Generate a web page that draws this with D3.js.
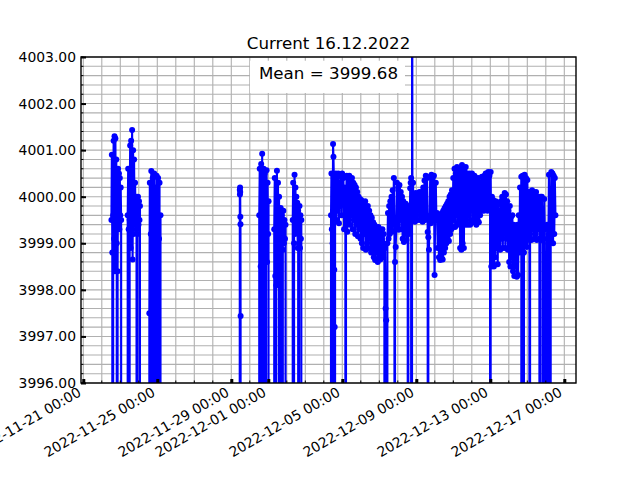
<!DOCTYPE html>
<html>
<head>
<meta charset="utf-8">
<script src="https://cdn.jsdelivr.net/npm/d3@7"></script>
<style>
  body { margin: 0; background: #fff; }
  text { font-family: "DejaVu Sans", sans-serif; }
</style>
</head>
<body>
<div id="chart"></div>
<script>
// logger readings, 0 = dropout, 4010 = spike off the top
var run1 = [3999.5, 4000.9, 3998.8, 0, 3999.6, 4001.2, 3999.1, 4001.3, 3998.4, 4001.25, 3999.3, 4000.8, 3999.0, 0, 3998.4, 4000.6, 3999.4, 4000.5, 3999.3, 4000.4, 3999.6, 4000.2, 3999.5, 0];
var run2 = [3999.6, 4000.6, 3999.3, 0, 3999.5, 4001.1, 3998.9, 4001.2, 3999.4, 4001.43, 3998.65, 4001.0, 3999.2, 4000.8, 3999.4, 4000.3, 3999.6, 4000.0, 3999.3, 0, 3999.2, 4000.0, 3999.4, 3999.9, 3999.5, 3999.8, 0];
var run3 = [3997.5, 4000.3, 0, 3999.2, 4000.55, 3998.6, 0, 4000.4, 3999.0, 0, 4000.5, 3998.9, 4000.2, 0, 3999.3, 4000.45, 0, 3998.5, 4000.4, 0, 3999.1, 4000.3, 0, 3999.6, 0];
var run4 = [4000.15, 4000.05, 4000.2, 4000.1, 3999.57, 3999.41, 3997.44, 0];
var run5 = [3999.6, 4000.6, 0, 3998.5, 4000.7, 3999.0, 4000.92, 0, 3998.43, 4000.6, 3999.3, 4000.5, 3998.8, 0, 3999.4, 4000.57, 3998.6, 4000.3, 3999.2, 3999.9, 0];
var run6 = [3999.3, 4000.4, 3998.3, 0, 3998.1, 4000.56, 3999.0, 4000.3, 3998.2, 4000.0, 0, 3998.9, 3999.76, 3999.1, 3999.6, 0, 3998.86, 3999.7, 3999.0, 3999.5, 3999.1, 3999.4, 0];
var run7 = [3999.5, 4000.3, 0, 3999.0, 4000.47, 3999.2, 4000.2, 3999.4, 4000.0, 3999.3, 3999.87, 3998.9, 3999.7, 0, 3999.0, 3999.8, 3998.9, 3999.6, 3999.1, 3999.5, 0];
var run8 = [3999.6, 4000.5, 3999.3, 0, 3999.0, 4001.13, 4000.86, 4000.4, 3998.43, 3997.2, 0];
var run9 = [3999.8, 4000.5, 3999.5, 4000.4, 3999.7, 4000.5, 3999.43, 4000.3, 3999.8, 4000.45, 3999.6, 4000.5, 3999.9, 4000.4, 3999.3, 4000.2, 3999.6, 0];
var run10 = [3999.9, 4000.45, 3999.25, 4000.4, 3999.5, 4000.45, 3999.4, 4000.35, 3999.6, 4000.4, 3999.3, 4000.3, 3999.5, 4000.25, 3999.2, 4000.2, 3999.4, 4000.1, 3999.15, 4000.0, 3999.3, 3999.95,
  3999.1, 3999.93, 3999.0, 3999.85, 3998.9, 3999.8, 3999.2, 3999.9, 3998.86, 3999.75, 3999.0, 3999.8, 3998.9, 3999.7, 3999.1, 3999.6, 3998.8, 3999.55, 3998.9, 3999.45,
  3998.7, 3999.4, 3998.64, 3999.35, 3998.8, 3999.3, 3998.6, 3999.35, 3998.7, 3999.3, 3998.65, 3999.25, 3998.8, 3999.3, 3998.7, 3999.2, 3998.9, 0];
var run11 = [3998.9, 3997.6, 3997.35, 0, 3999.0, 3999.65, 3999.1, 3999.8, 3999.2, 3999.9, 3999.3, 4000.0, 3999.25, 4000.14, 3999.4, 4000.4, 3999.5, 0];
var run12 = [3998.6, 3998.92, 3999.3, 4000.3, 3999.4, 4000.2, 3999.29, 4000.25, 3999.5, 4000.1, 3999.3, 4000.0, 3999.1, 3999.9, 3999.03, 3999.8, 3999.2, 3999.85, 3999.07, 3999.78, 3999.3, 0];
var run13 = [3999.6, 3999.2, 3999.8, 3999.3, 4000.18, 4000.3, 4000.4, 0, 4010];
var run14 = [4000.0, 4000.3, 3999.5, 4000.05, 3999.46, 4000.08, 3999.6, 4000.0, 3999.5, 4000.05, 3999.7, 4000.1, 3999.5, 4000.04, 3999.6, 4000.1, 3999.46, 4000.2, 3999.55, 4000.35, 3999.5, 4000.45, 3999.6, 4000.4, 3999.24, 0];
var run15 = [3999.13, 3998.86, 3999.5, 4000.43, 3999.43, 4000.47, 3999.6, 4000.4, 3999.5, 4000.45, 3998.32, 3999.6, 4000.3, 3999.5,
  3999.65, 3998.9, 3999.6, 3998.7, 3999.55, 3998.64, 3999.6, 3998.7, 3999.65, 3998.65, 3999.7, 3998.8, 3999.75, 3998.9, 3999.8, 3999.0, 3999.85, 3999.1, 3999.9, 3999.05, 4000.0, 3999.2, 4000.05, 3999.3, 4000.14, 3999.35,
  4000.4, 3999.5, 4000.6, 3999.35, 4000.5, 3999.6, 4000.64, 3999.4, 4000.55, 3999.45, 4000.6, 3998.9, 4000.5, 3998.86, 4000.68, 3999.0, 4000.6, 3998.9, 4000.55, 3999.4, 4000.64, 3999.5, 4000.5, 3999.4,
  4000.45, 3999.6, 4000.5, 3999.4, 4000.43, 3999.7, 4000.5, 3999.5, 4000.4, 3999.45, 4000.45, 3999.6, 4000.4, 3999.4, 4000.35, 3999.5, 4000.4, 3999.45, 4000.3, 3999.6,
  4000.3, 3999.7, 4000.43, 3999.8, 4000.4, 3999.7, 4000.45, 3999.75, 4000.5, 3999.8, 4000.4, 3999.7, 4000.53, 3999.9, 4000.45, 3999.8, 0];
var run16 = [4000.53, 3998.5, 4000.0, 3998.6, 3999.93, 3998.5, 3999.86, 3998.7, 3999.9, 3998.9, 3999.8, 3998.55,
  3999.86, 3998.9, 3999.7, 3998.86, 3999.9, 3999.1, 4000.0, 3998.9, 3999.95, 3999.2, 4000.08, 3998.9, 4000.05, 3999.1,
  3999.9, 3998.86, 3999.7, 3998.6, 3999.8, 3998.5, 3999.57, 3998.7, 3999.6, 3998.4, 3999.4, 3998.3, 3999.3, 3998.5, 3999.22, 3998.28, 3999.4, 3998.32, 3999.6,
  3998.8, 4000.2, 3998.9, 4000.43, 0];
var run17 = [3998.9, 4000.45, 0, 3998.8, 4000.47, 3999.0, 4000.4, 3998.92, 4000.36, 3999.1, 4000.1, 3999.07, 0];
var run18 = [3999.2, 4000.1, 3999.07, 4000.14, 3999.3, 4000.1, 3999.1, 4000.05, 3999.2, 4000.1, 3999.07, 4000.0, 3999.3, 4000.0, 3999.1, 0];
var run19 = [3999.5, 4000.0, 3999.07, 4000.0, 3999.2, 0, 3999.1, 3999.95, 3999.3, 0, 3998.53, 3997.95, 3999.4, 0, 3999.0, 4000.47, 3999.2, 0, 3999.1, 4000.53, 3999.3, 4000.5, 3999.0, 4000.45, 3999.2, 4000.4, 3999.6];

// start / end of each run, in days after 2022-11-21 00:00
var runSpans = [[1.52, 2.07], [2.40, 3.09], [3.57, 4.20], [8.46, 8.51], [9.51, 10.04], [10.32, 10.96], [11.32, 11.81],
  [13.39, 13.61], [13.61, 14.20], [14.20, 16.31], [16.31, 16.85], [16.85, 17.57], [17.57, 17.77], [17.79, 18.65],
  [18.65, 22.02], [22.02, 23.71], [23.71, 24.15], [24.15, 24.69], [24.69, 25.52]];
var runs = [run1, run2, run3, run4, run5, run6, run7, run8, run9, run10, run11, run12, run13, run14, run15, run16, run17, run18, run19];

var xTickDates = ["2022-11-21", "2022-11-25", "2022-11-29", "2022-12-01", "2022-12-05", "2022-12-09", "2022-12-13", "2022-12-17"];
var yTicks = [3996, 3997, 3998, 3999, 4000, 4001, 4002, 4003];
var titleText = "Current 16.12.2022";
var meanText = "Mean = 3999.68";

var margin = {top: 57, right: 64, bottom: 97, left: 81},
    width = 640 - margin.left - margin.right,
    height = 480 - margin.top - margin.bottom;

var parseDay = d3.timeParse("%Y-%m-%d");
var base = parseDay("2022-11-21");
function dayToDate(d) { return new Date(base.getTime() + d * 864e5); }

// build the point table from the runs
var points = [];
runs.forEach(function(vals, k) {
  var a = runSpans[k][0], b = runSpans[k][1];
  vals.forEach(function(v, i) {
    var d = vals.length > 1 ? a + (b - a) * i / (vals.length - 1) : a;
    points.push({date: dayToDate(d), value: v});
  });
});

var svg = d3.select("#chart").append("svg")
    .attr("width", 640)
    .attr("height", 480);

var x = d3.scaleTime()
    .domain([dayToDate(-0.124), dayToDate(26.632)])
    .range([0, width]);
var y = d3.scaleLinear().domain([3996, 4003]).range([height, 0]);

var g = svg.append("g")
    .attr("transform", "translate(" + margin.left + "," + margin.top + ")");

svg.append("defs").append("clipPath").attr("id", "clip")
  .append("rect").attr("width", width).attr("height", height);

// grid: every day and every 0.2
var minorDays = d3.timeDay.range(d3.timeDay.ceil(x.domain()[0]), x.domain()[1]);
var minorY = d3.range(0, 36).map(function(i) { return 3996 + i * 0.2; });

g.append("g").selectAll("line").data(minorDays).enter().append("line")
  .attr("x1", function(d) { return x(d); }).attr("x2", function(d) { return x(d); })
  .attr("y1", 0).attr("y2", height)
  .attr("stroke", "#b0b0b0").attr("stroke-width", 1.1);
g.append("g").selectAll("line").data(minorY).enter().append("line")
  .attr("y1", function(d) { return y(d); }).attr("y2", function(d) { return y(d); })
  .attr("x1", 0).attr("x2", width)
  .attr("stroke", "#b0b0b0").attr("stroke-width", 1.1);

// data
var plot = g.append("g").attr("clip-path", "url(#clip)");
var line = d3.line()
    .x(function(d) { return x(d.date); })
    .y(function(d) { return y(d.value); });
plot.append("path")
  .datum(points)
  .attr("d", line)
  .attr("fill", "none")
  .attr("stroke", "#0000ff")
  .attr("stroke-width", 2.1);
plot.selectAll("circle")
  .data(points.filter(function(d) { return d.value > 3990 && d.value < 4005; }))
  .enter().append("circle")
  .attr("cx", function(d) { return x(d.date); })
  .attr("cy", function(d) { return y(d.value); })
  .attr("r", 3)
  .attr("fill", "#0000ff");

// minor ticks (inward)
g.append("g").selectAll("line").data(minorDays).enter().append("line")
  .attr("x1", function(d) { return x(d); }).attr("x2", function(d) { return x(d); })
  .attr("y1", height).attr("y2", height - 2.5)
  .attr("stroke", "#000").attr("stroke-width", 1);
g.append("g").selectAll("line").data(minorY).enter().append("line")
  .attr("y1", function(d) { return y(d); }).attr("y2", function(d) { return y(d); })
  .attr("x1", 0).attr("x2", 2.5)
  .attr("stroke", "#000").attr("stroke-width", 1);

// x axis
var xTicks = xTickDates.map(parseDay);
var xAxis = g.append("g")
  .attr("transform", "translate(0," + height + ")")
  .call(d3.axisBottom(x).tickValues(xTicks).tickFormat(d3.timeFormat("%Y-%m-%d %H:%M"))
        .tickSizeInner(-4).tickSizeOuter(0).tickPadding(0));
xAxis.select(".domain").remove();
xAxis.selectAll(".tick line").attr("stroke-width", 3);
xAxis.selectAll(".tick text")
  .attr("font-size", "13.9px")
  .attr("fill", "#000")
  .attr("text-anchor", "end")
  .attr("transform", "translate(-1.7,12) rotate(-30)")
  .attr("dy", 0)
  .attr("y", 0);

// y axis
var yAxis = g.append("g")
  .call(d3.axisLeft(y).tickValues(yTicks).tickFormat(d3.format(".2f"))
        .tickSizeInner(-5).tickSizeOuter(0).tickPadding(5));
yAxis.select(".domain").remove();
yAxis.selectAll(".tick line").attr("stroke-width", 2);
yAxis.selectAll(".tick text").attr("font-size", "13.9px").attr("fill", "#000").attr("x", -5);

// frame
g.append("rect")
  .attr("width", width).attr("height", height)
  .attr("fill", "none").attr("stroke", "#000").attr("stroke-width", 1.4);

// title
svg.append("text")
  .attr("x", margin.left + width / 2)
  .attr("y", 49.3)
  .attr("text-anchor", "middle")
  .attr("font-size", "16.7px")
  .text(titleText);

// mean box
g.append("rect")
  .attr("x", 250 - margin.left).attr("y", 60.7 - margin.top)
  .attr("width", 155).attr("height", 32.3)
  .attr("fill", "#fff");
g.append("text")
  .attr("x", width / 2)
  .attr("y", 79.3 - margin.top)
  .attr("text-anchor", "middle")
  .attr("font-size", "16.7px")
  .text(meanText);
</script>
</body>
</html>
